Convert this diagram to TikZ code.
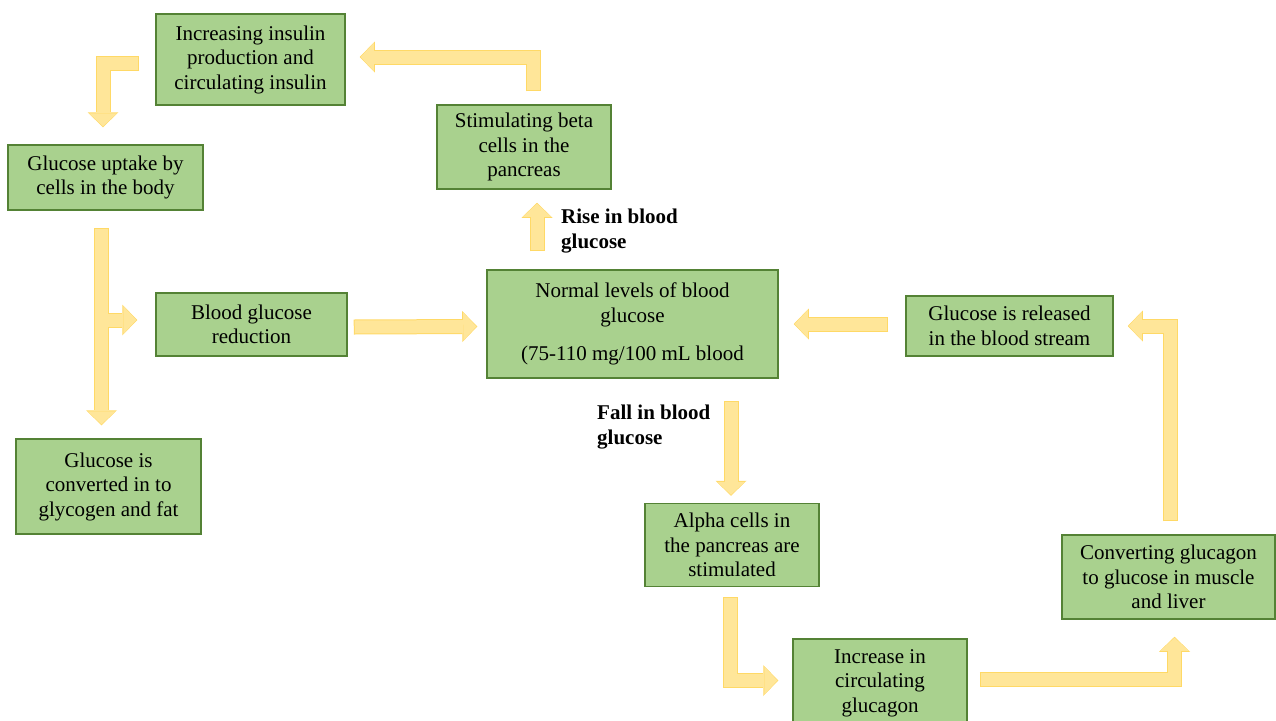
\documentclass[tikz,border=0pt]{standalone}
\usepackage{fontspec}
\setmainfont{Liberation Serif}
\usetikzlibrary{arrows.meta}
\definecolor{boxfill}{HTML}{A9D18E}
\definecolor{boxline}{HTML}{548235}
\definecolor{arrowfill}{HTML}{FFE699}
\definecolor{arrowline}{HTML}{FFD966}

\begin{document}
\begin{tikzpicture}[x=1pt,y=-1pt,
    box/.style={draw=boxline,fill=boxfill,line width=1.5pt,align=center,inner sep=0pt,font=\fontsize{21}{24.5}\selectfont},
    lbl/.style={align=left,anchor=west,inner sep=0pt,font=\fontsize{21}{24.5}\selectfont\bfseries},
    flowedge/.style={draw=arrowline,line width=15pt,shorten >=0pt,shorten <=0pt,-{Triangle[width=31pt,length=15pt,line width=0pt]}},
    flowfill/.style={draw=arrowfill,line width=13pt,shorten >=1pt,shorten <=1pt,-{Triangle[width=28pt,length=13pt,line width=0pt]}},
    flow/.style={preaction={flowedge},flowfill}]
  \useasboundingbox (0,0) rectangle (1276,720);

  % boxes
  \node[box,minimum width=189pt,minimum height=91pt] (ins) at (250.5,59.5) {Increasing insulin\\production and\\circulating insulin};
  \node[box,minimum width=174pt,minimum height=84pt] (beta) at (524,147) {Stimulating beta\\cells in the\\pancreas};
  \node[box,minimum width=195pt,minimum height=65pt] (uptake) at (105.5,177.5) {Glucose uptake by\\cells in the body};
  \node[box,minimum width=191pt,minimum height=63pt] (red) at (251.5,324.5) {Blood glucose\\reduction};
  \node[box,minimum width=291pt,minimum height=108pt] (norm) at (632.5,324) {Normal levels of blood\\glucose\\[14pt](75-110 mg/100 mL blood};
  \node[box,minimum width=207pt,minimum height=60pt] (rel) at (1009.5,326) {Glucose is released\\in the blood stream};
  \node[box,minimum width=185pt,minimum height=95pt] (conv) at (108.5,486.5) {Glucose is\\converted in to\\glycogen and fat};
  \node[box,minimum width=174pt,minimum height=83pt] (alpha) at (732,545) {Alpha cells in\\the pancreas are\\stimulated};
  \node[box,minimum width=174pt,minimum height=88pt] (inc) at (880,683) {Increase in\\circulating\\glucagon};
  \node[box,minimum width=213pt,minimum height=84pt] (gcg) at (1168.5,577) {Converting glucagon\\to glucose in muscle\\and liver};

  \node[lbl] (rise) at (561,231) {Rise in blood\\glucose};
  \node[lbl] (fall) at (597,427) {Fall in blood\\glucose};

  % arrows
  \draw[flow] ([xshift=-16pt,yshift=-3.5pt]ins.west) -| ([xshift=-2.5pt,yshift=17pt]uptake.north);
  \draw[flow] ([xshift=9pt,yshift=13pt]beta.north) |- ([xshift=14pt,yshift=2.5pt]ins.east);
  \draw[flow] ([xshift=-95.5pt,yshift=18pt]norm.north) -- ([xshift=13pt,yshift=-13pt]beta.south);

  \coordinate (split) at (101.5,320);
  \draw[flowedge] ([xshift=-4pt,yshift=-17pt]uptake.south) -- ([xshift=-7pt,yshift=13pt]conv.north);
  \draw[flowedge] (split) -- ([xshift=-18pt,yshift=4.5pt]red.west);
  \draw[flowfill] ([xshift=-4pt,yshift=-17pt]uptake.south) -- ([xshift=-7pt,yshift=13pt]conv.north);
  \draw[flowfill] (split) -- ([xshift=-18pt,yshift=4.5pt]red.west);

  \draw[flow] ([xshift=6pt,yshift=-2.5pt]red.east) -- ([xshift=-9pt,yshift=-2.5pt]norm.west);
  \draw[flow] ([xshift=-17pt,yshift=2pt]rel.west) -- ([xshift=15pt]norm.east);
  \draw[flow] ([xshift=2pt,yshift=13pt]gcg.north) |- ([xshift=14pt]rel.east);
  \draw[flow] ([xshift=98.5pt,yshift=-22pt]norm.south) -- ([xshift=-1pt,yshift=7pt]alpha.north);
  \draw[flow] ([xshift=-1.5pt,yshift=-10pt]alpha.south) |- ([xshift=-14pt,yshift=2.5pt]inc.west);
  \draw[flow] ([xshift=12pt,yshift=4pt]inc.east) -| ([xshift=6pt,yshift=-17pt]gcg.south);
\end{tikzpicture}
\end{document}
